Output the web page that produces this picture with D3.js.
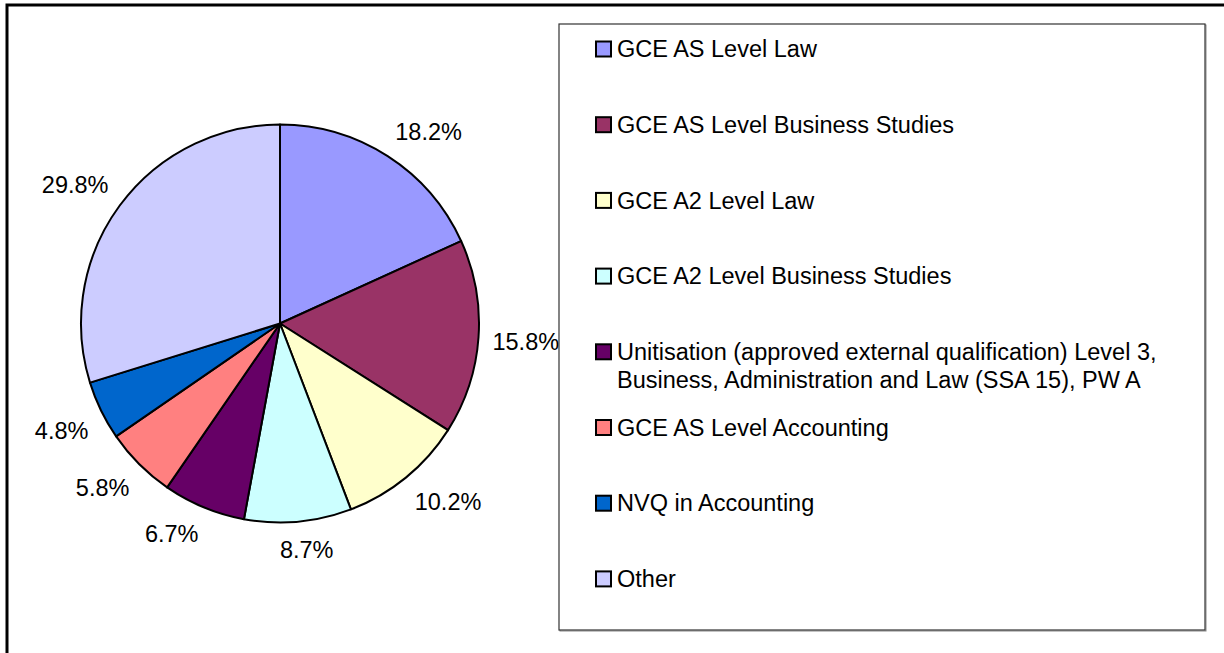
<!DOCTYPE html>
<html>
<head>
<meta charset="utf-8">
<script src="https://cdn.jsdelivr.net/npm/d3@7"></script>
<style>
  html, body { margin: 0; padding: 0; background: #fff; }
  svg { display: block; font-family: "Liberation Sans", Arial, sans-serif; }
</style>
</head>
<body>
<svg id="chart" width="1224" height="653"></svg>
<script>
// ---- data ----
const categories = [
  "GCE AS Level Law",
  "GCE AS Level Business Studies",
  "GCE A2 Level Law",
  "GCE A2 Level Business Studies",
  "Unitisation (approved external qualification) Level 3, Business, Administration and Law (SSA 15), PW A",
  "GCE AS Level Accounting",
  "NVQ in Accounting",
  "Other"
];
const values = [18.2, 15.8, 10.2, 8.7, 6.7, 5.8, 4.8, 29.8];
const labels = ["18.2%", "15.8%", "10.2%", "8.7%", "6.7%", "5.8%", "4.8%", "29.8%"];
const colors = ["#9999FF", "#993366", "#FFFFCC", "#CCFFFF", "#660066", "#FF8080", "#0066CC", "#CCCCFF"];

// ---- layout ----
const W = 1224, H = 653;
const cx = 280, cy = 323.5, r = 199;
const fontSize = 23.5;
const svg = d3.select("#chart");

// outer chart frame (extends past right/bottom edges)
svg.append("rect")
  .attr("x", 7).attr("y", 5)
  .attr("width", W + 20).attr("height", H + 20)
  .attr("fill", "none").attr("stroke", "#000").attr("stroke-width", 3);

const data = categories.map((c, i) => ({ name: c, value: values[i], label: labels[i], color: colors[i] }));

const pie = d3.pie().sort(null).value(d => d.value);
const arcs = pie(data);
const arc = d3.arc().innerRadius(0).outerRadius(r);

const g = svg.append("g").attr("transform", `translate(${cx},${cy})`);
g.selectAll("path.slice")
  .data(arcs)
  .join("path")
  .attr("class", "slice")
  .attr("d", arc)
  .attr("fill", d => d.data.color)
  .attr("stroke", "#000")
  .attr("stroke-width", 2)
  .attr("stroke-linejoin", "round");

// data labels, placed Excel-style: box corner touches a point just outside the rim
const labelR = r + 14;
const halfH = 13;
const clamp = v => Math.max(-1, Math.min(1, v));
g.selectAll("text.lbl")
  .data(arcs)
  .join("text")
  .attr("class", "lbl")
  .attr("font-size", fontSize)
  .attr("fill", "#000")
  .attr("text-anchor", "middle")
  .attr("dominant-baseline", "central")
  .text(d => d.data.label)
  .each(function(d) {
    const a = (d.startAngle + d.endAngle) / 2;
    const s = Math.sin(a), c = Math.cos(a);
    const w = this.getComputedTextLength();
    const px = labelR * s, py = -labelR * c;
    const x = px + (w / 2) * clamp(3 * s);
    const y = py - halfH * clamp(3 * c);
    d3.select(this).attr("x", x).attr("y", y + 1);
  });

// ---- legend ----
const lg = { x: 559, y: 24, w: 646, h: 606 };
svg.append("rect")
  .attr("x", lg.x + 1).attr("y", lg.y + 1)
  .attr("width", lg.w).attr("height", lg.h)
  .attr("fill", "none").attr("stroke", "#888").attr("stroke-width", 1);
svg.append("rect")
  .attr("x", lg.x).attr("y", lg.y)
  .attr("width", lg.w).attr("height", lg.h)
  .attr("fill", "#fff").attr("stroke", "#333").attr("stroke-width", 1.2);

const rowStep = 75.7, firstRow = 49, lineH = 28;
const swX = 596, sw = 15, textX = 617, maxTextW = 575;

const items = svg.append("g").selectAll("g.item")
  .data(data)
  .join("g")
  .attr("class", "item")
  .attr("transform", (d, i) => `translate(0,${firstRow + i * rowStep})`);

items.append("rect")
  .attr("x", swX).attr("y", -sw / 2)
  .attr("width", sw).attr("height", sw)
  .attr("fill", d => d.color)
  .attr("stroke", "#000").attr("stroke-width", 2);

items.append("text")
  .attr("font-size", fontSize)
  .attr("fill", "#000")
  .attr("x", textX)
  .each(function(d) {
    const t = d3.select(this);
    const words = d.name.split(" ");
    let line = [], lineNo = 0;
    let tspan = t.append("tspan").attr("x", textX).attr("y", 0).attr("dy", "0.35em");
    words.forEach(wd => {
      line.push(wd);
      tspan.text(line.join(" "));
      if (tspan.node().getComputedTextLength() > maxTextW && line.length > 1) {
        line.pop();
        tspan.text(line.join(" "));
        line = [wd];
        lineNo++;
        tspan = t.append("tspan").attr("x", textX).attr("y", lineNo * lineH).attr("dy", "0.35em").text(wd);
      }
    });
  });
</script>
</body>
</html>
